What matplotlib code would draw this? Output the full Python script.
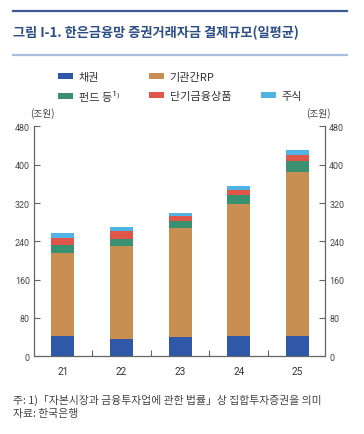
import matplotlib
matplotlib.use("Agg")
import matplotlib.pyplot as plt
from matplotlib.lines import Line2D
from matplotlib.patches import Patch
import numpy as np

plt.rcParams["font.family"] = ["Noto Sans CJK KR", "DejaVu Sans"]

years = ["21", "22", "23", "24", "25"]
bonds = [42, 36, 40, 42, 43]          # 채권
repo = [173, 194, 227, 276, 342]      # 기관간RP
funds = [17, 15, 15, 19, 22]          # 펀드 등
short_term = [14, 17, 10, 11, 14]     # 단기금융상품
stocks = [11, 8, 8, 7, 10]            # 주식

series = [
    ("채권", bonds, "#2f58a8"),
    ("기관간RP", repo, "#c98f52"),
    ("펀드 등¹⁾", funds, "#3a9172"),
    ("단기금융상품", short_term, "#e0574a"),
    ("주식", stocks, "#4fb4e4"),
]

fig = plt.figure(figsize=(3.64, 4.35), dpi=100)
ax = fig.add_axes([34 / 364, 1 - 357.3 / 435, (325 - 34) / 364, (357.3 - 127.4) / 435])

x = np.arange(len(years))
bottom = np.zeros(len(years))
handles = []
for name, vals, col in series:
    ax.bar(x, vals, bottom=bottom, width=0.39, color=col, zorder=2)
    bottom += np.asarray(vals, dtype=float)
    handles.append(Patch(facecolor=col, label=name))

ax.set_xlim(-0.49, 4.47)
ax.set_ylim(0, 480)
yt = np.arange(0, 481, 80)
ax.set_yticks(yt)
ax.set_yticklabels([str(v) for v in yt])
ax.set_xticks(x)
ax.set_xticklabels(years)
ax.set_xticks(x[:-1] + 0.5, minor=True)

axis_col = "#666666"
for side in ["left", "right", "bottom"]:
    ax.spines[side].set_color(axis_col)
    ax.spines[side].set_linewidth(0.9)
ax.spines["top"].set_visible(False)

ax.tick_params(axis="x", which="major", length=0, pad=7, labelsize=7.2, labelcolor="#333333",
               labelfontfamily="Roboto")
ax.tick_params(axis="x", which="minor", direction="in", length=4, width=0.8, color=axis_col)
ax.tick_params(axis="y", direction="in", length=4, width=0.8, color=axis_col,
               labelsize=6.4, labelcolor="#444444", left=True, right=True,
               labelleft=True, labelright=True, pad=3, labelfontfamily="Roboto")

# legend: two rows, 주식 on the second row
blank = Patch(facecolor="none", edgecolor="none", label=" ")
order = [handles[0], handles[2], handles[1], handles[3], blank, handles[4]]
fig.legend(handles=order, labels=[h.get_label() for h in order], ncol=3,
           loc="upper left", bbox_to_anchor=(58 / 364, 1 - 73 / 435),
           frameon=False, fontsize=8, handlelength=1.35, handleheight=0.5,
           handletextpad=0.5, columnspacing=2.7, labelspacing=0.8,
           labelcolor="#333333", borderaxespad=0, borderpad=0)

fig.text(42 / 364, 1 - 114 / 435, "(조원)", ha="center", va="center", fontsize=7, color="#444444")
fig.text(318 / 364, 1 - 114 / 435, "(조원)", ha="center", va="center", fontsize=7, color="#444444")

# title block
fig.add_artist(Line2D([13 / 364, 347 / 364], [1 - 12 / 435] * 2, color="#3b5d93", lw=1.6))
fig.add_artist(Line2D([13 / 364, 347 / 364], [1 - 56 / 435] * 2, color="#a9bedb", lw=1.6))
fig.text(13 / 364, 1 - 33 / 435, "그림 I-1. 한은금융망 증권거래자금 결제규모(일평균)",
         ha="left", va="center", fontsize=9.5, fontweight="bold", color="#2c4d85")

fig.text(13 / 364, 1 - 400 / 435, "주: 1)「자본시장과 금융투자업에 관한 법률」상 집합투자증권을 의미",
         ha="left", va="center", fontsize=7.8, color="#444444")
fig.text(13 / 364, 1 - 414 / 435, "자료: 한국은행",
         ha="left", va="center", fontsize=7.8, color="#444444")

fig.savefig("out.png", dpi=100)
